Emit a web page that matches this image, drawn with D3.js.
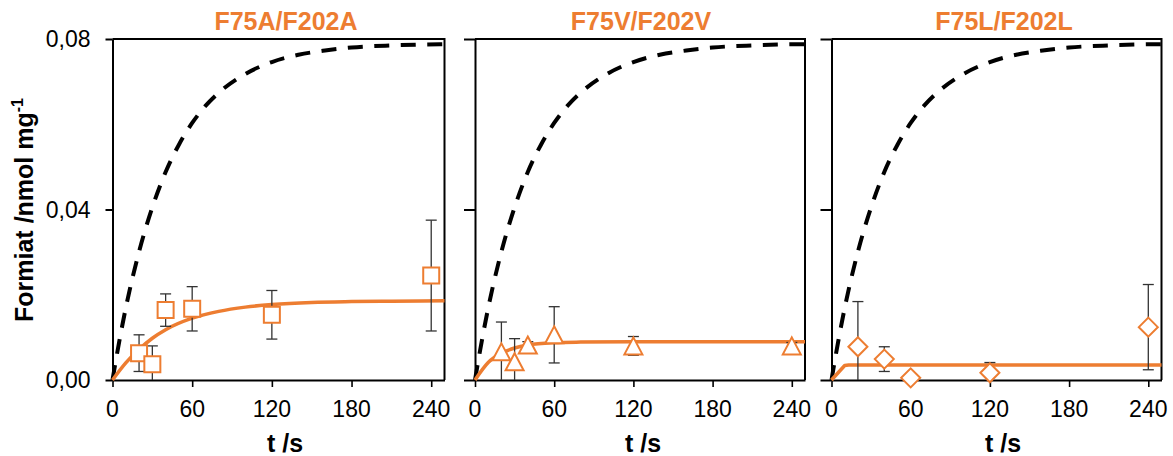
<!DOCTYPE html>
<html>
<head>
<meta charset="utf-8">
<script src="https://cdn.jsdelivr.net/npm/d3@7"></script>
<style>
  html, body { margin: 0; padding: 0; background: #fff; }
  svg { display: block; font-family: "Liberation Sans", Arial, sans-serif; }
</style>
</head>
<body>
<svg id="chart" width="1173" height="456"></svg>
<script>
// ---------- data ----------
const titles = ["F75A/F202A", "F75V/F202V", "F75L/F202L"];
const markerShapes = ["square", "triangle", "diamond"];
const xTicks = [0, 60, 120, 180, 240];
const xTickLabels = ["0", "60", "120", "180", "240"];
const yTicks = [0, 0.04, 0.08];
const yTickLabels = ["0,00", "0,04", "0,08"];
const xAxisTitle = "t /s";
const yAxisTitle = "Formiat /nmol mg";
const yAxisSup = "-1";

// measured points (t, value, error)
const tA = [20, 30, 40, 60, 120, 240];
const yA = [0.0063, 0.0037, 0.0164, 0.0167, 0.0153, 0.0245];
const eA = [0.0043, 0.0043, 0.0038, 0.0052, 0.0057, 0.0130];

const tV = [20, 30, 40, 60, 120, 240];
const yV = [0.0066, 0.0043, 0.0082, 0.0106, 0.0080, 0.0080];
const eV = [0.0070, 0.0054, 0.0008, 0.0066, 0.0022, 0.0008];

const tL = [20, 40, 60, 120, 240];
const yL = [0.0078, 0.0049, 0.0005, 0.0017, 0.0124];
const eL = [0.0106, 0.0029, 0.0000, 0.0024, 0.0100];

// fitted curves
const fitTA = [0, 10, 20, 30, 40, 60, 80, 100, 120, 150, 180, 210, 250];
const fitYA = [0, 0.0040, 0.0072, 0.0098, 0.0118, 0.0145, 0.0161, 0.0171, 0.0177, 0.0182, 0.0184, 0.0185, 0.0186];
const fitTV = [0, 10, 20, 30, 40, 60, 80, 120, 250];
const fitYV = [0, 0.0041, 0.0063, 0.0075, 0.0082, 0.00875, 0.0089, 0.0090, 0.0090];
const fitTL = [0, 10, 13, 250];
const fitYL = [0, 0.0034, 0.0035, 0.0035];

// reference (dashed) curve, same in all panels
const refT = [0, 5, 10, 20, 30, 40, 50, 60, 70, 80, 100, 120, 140, 160, 180, 210, 250];
const refY = [0, 0.0089, 0.0169, 0.0301, 0.0405, 0.0488, 0.0552, 0.0603, 0.0643, 0.0674, 0.0718, 0.0746, 0.0763, 0.0773, 0.0780, 0.0785, 0.0788];

// ---------- layout ----------
const ORANGE = "#ED7D31";
const panelLeft = [112.5, 475, 831.5];
const panelWidth = [332, 330, 330];
const yTickLen = [7, 11, 11];
const titleX = [286, 641, 1004];
const xLabelX = [285, 643, 1003];
const plotTop = 39, plotBottom = 380;

const svg = d3.select("#chart");
const yScale = d3.scaleLinear().domain([0, 0.08]).range([plotBottom, plotTop]);

const seriesT = [tA, tV, tL], seriesY = [yA, yV, yL], seriesE = [eA, eV, eL];
const fitT = [fitTA, fitTV, fitTL], fitY = [fitYA, fitYV, fitYL];

function markerPath(shape) {
  if (shape === "square") return "M-8,-8H8V8H-8Z";
  if (shape === "triangle") return "M0,-8.5L9,8.5H-9Z";
  return "M0,-9.5L9.5,0L0,9.5L-9.5,0Z";
}

for (let p = 0; p < 3; p++) {
  const L = panelLeft[p], W = panelWidth[p];
  const x = d3.scaleLinear().domain([0, 250]).range([L, L + W]);
  const g = svg.append("g");

  // y axis
  const ya = g.append("g").attr("transform", `translate(${L},0)`)
    .call(d3.axisLeft(yScale).tickValues(yTicks).tickSize(yTickLen[p]).tickSizeOuter(0).tickFormat(""));
  ya.select(".domain").attr("stroke", "#000").attr("stroke-width", 2);
  ya.selectAll(".tick line").attr("stroke", "#000").attr("stroke-width", 2);

  // x axis
  const xa = g.append("g").attr("transform", `translate(0,${plotBottom})`)
    .call(d3.axisBottom(x).tickValues(xTicks).tickSize(7).tickSizeOuter(0).tickFormat(""));
  xa.select(".domain").attr("stroke", "#000").attr("stroke-width", 2);
  xa.selectAll(".tick line").attr("stroke", "#000").attr("stroke-width", 1.6);

  // top and right frame
  g.append("line").attr("x1", L).attr("x2", L + W).attr("y1", plotTop).attr("y2", plotTop)
    .attr("stroke", "#000").attr("stroke-width", 2);
  g.append("line").attr("x1", L + W).attr("x2", L + W).attr("y1", plotTop - 1).attr("y2", plotBottom)
    .attr("stroke", "#000").attr("stroke-width", 2);

  // x tick labels
  g.selectAll(".xl").data(xTicks).enter().append("text")
    .attr("x", d => x(d)).attr("y", plotBottom + 37)
    .attr("text-anchor", "middle").attr("font-size", 23).attr("fill", "#000")
    .text((d, i) => xTickLabels[i]);

  // y tick labels (first panel only)
  if (p === 0) {
    g.selectAll(".yl").data(yTicks).enter().append("text")
      .attr("x", L - 22).attr("y", d => yScale(d) + 8)
      .attr("text-anchor", "end").attr("font-size", 23).attr("fill", "#000")
      .text((d, i) => yTickLabels[i]);
  }

  // title
  g.append("text").attr("x", titleX[p]).attr("y", 30)
    .attr("text-anchor", "middle").attr("font-size", 25).attr("font-weight", "bold")
    .attr("fill", ORANGE).text(titles[p]);

  // x axis title
  g.append("text").attr("x", xLabelX[p]).attr("y", 452)
    .attr("text-anchor", "middle").attr("font-size", 25).attr("font-weight", "bold")
    .attr("fill", "#000").text(xAxisTitle);

  // dashed reference curve
  const line = d3.line().x(d => x(d[0])).y(d => yScale(d[1])).curve(d3.curveMonotoneX);
  g.append("path").datum(refT.map((t, i) => [t, refY[i]]))
    .attr("d", line).attr("fill", "none").attr("stroke", "#000")
    .attr("stroke-width", 4).attr("stroke-dasharray", "15,11.5");

  // fit curve
  const fitLine = p === 2 ? d3.line().x(d => x(d[0])).y(d => yScale(d[1])) : line;
  g.append("path").datum(fitT[p].map((t, i) => [t, fitY[p][i]]))
    .attr("d", fitLine).attr("fill", "none").attr("stroke", ORANGE)
    .attr("stroke-width", 3.5).attr("stroke-linejoin", "round");

  // error bars
  const pts = seriesT[p].map((t, i) => ({ t, v: seriesY[p][i], e: seriesE[p][i] }));
  const eb = g.append("g").attr("stroke", "#333").attr("stroke-width", 1.3);
  pts.forEach(d => {
    if (d.e <= 0) return;
    const hi = d.v + d.e, lo = Math.max(0, d.v - d.e);
    const cx = x(d.t);
    eb.append("line").attr("x1", cx).attr("x2", cx).attr("y1", yScale(hi)).attr("y2", yScale(lo));
    eb.append("line").attr("x1", cx - 5.5).attr("x2", cx + 5.5).attr("y1", yScale(hi)).attr("y2", yScale(hi));
    if (d.v - d.e > 0)
      eb.append("line").attr("x1", cx - 5.5).attr("x2", cx + 5.5).attr("y1", yScale(lo)).attr("y2", yScale(lo));
  });

  // markers
  g.selectAll(".mk").data(pts).enter().append("path")
    .attr("transform", d => `translate(${x(d.t)},${yScale(d.v)})`)
    .attr("d", markerPath(markerShapes[p]))
    .attr("fill", "#fff").attr("stroke", ORANGE).attr("stroke-width", 2);
}

// y axis title
svg.append("text")
  .attr("transform", "translate(33,210) rotate(-90)")
  .attr("text-anchor", "middle").attr("font-size", 25).attr("font-weight", "bold").attr("fill", "#000")
  .text(yAxisTitle)
  .append("tspan").attr("dy", -10).attr("font-size", 16).text(yAxisSup);
</script>
</body>
</html>
